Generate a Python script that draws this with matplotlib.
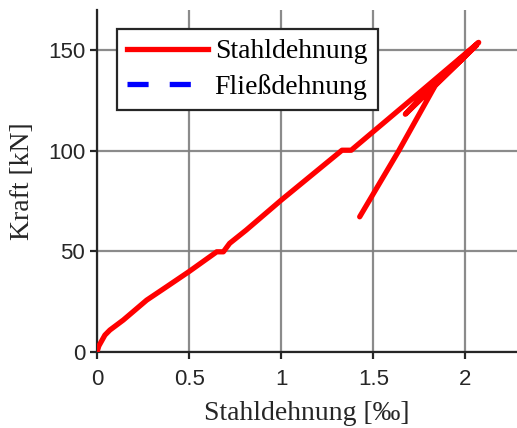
import matplotlib
matplotlib.use("Agg")
import matplotlib.pyplot as plt
from matplotlib.lines import Line2D

# Data
strain = [0.0, 0.01, 0.043, 0.07, 0.143, 0.27, 0.379, 0.5, 0.65, 0.686, 0.72, 0.81,
          1.0, 1.33, 1.38, 1.7, 2.072, 1.837, 1.674, 1.837, 2.06, 1.837, 1.638, 1.426]
force = [0.0, 3.0, 8.4, 10.9, 15.9, 25.8, 32.5, 40.0, 49.8, 49.8, 54.0, 60.6,
         75.5, 100.3, 100.3, 125.0, 153.9, 134.5, 118.2, 132.6, 152.5, 132.6, 100.0, 67.2]
xticks = [0, 0.5, 1, 1.5, 2]
xticklabels = ["0", "0.5", "1", "1.5", "2"]
yticks = [0, 50, 100, 150]

fig = plt.figure(figsize=(5.17, 4.28), dpi=100)
ax = fig.add_axes([0.1876, 0.1776, 0.8124, 0.799])

ax.plot(strain, force, color="#ff0000", lw=3.8, solid_capstyle="round",
        solid_joinstyle="round", zorder=3)

ax.set_xlim(0, 2.28)
ax.set_ylim(0, 170)
ax.set_xticks(xticks)
ax.set_xticklabels(xticklabels)
ax.set_yticks(yticks)

ax.grid(True, color="#7f7f7f", lw=1.6, alpha=0.9)
ax.set_axisbelow(True)
for s in ["top", "right"]:
    ax.spines[s].set_visible(False)
for s in ["left", "bottom"]:
    ax.spines[s].set_color("#262626")
    ax.spines[s].set_linewidth(1.6)

ax.tick_params(direction="out", length=5, width=1.6, color="#262626",
               labelsize=16, labelcolor="#262626")
ax.tick_params(axis="x", pad=7)
for lab in ax.get_xticklabels() + ax.get_yticklabels():
    lab.set_family("Liberation Sans")

serif = "Liberation Serif"
ax.set_xlabel("Stahldehnung [‰]", fontsize=20, family=serif, color="#262626", labelpad=8)
ax.set_ylabel("Kraft [kN]", fontsize=20, family=serif, color="#262626", labelpad=9)

h1 = Line2D([], [], color="#ff0000", lw=3.8)
h2 = Line2D([], [], color="#0000ff", lw=3.8, linestyle=(0, (4, 4)))
leg = ax.legend([h1, h2], ["Stahldehnung", "Fließdehnung"], loc="upper left",
                bbox_to_anchor=(0.048, 0.945), prop={"family": serif, "size": 20},
                frameon=True, fancybox=False, handlelength=2.9, borderpad=0.36,
                labelspacing=0.34, handletextpad=0.25, borderaxespad=0)
leg.get_frame().set_edgecolor("#262626")
leg.get_frame().set_linewidth(1.6)
leg.get_frame().set_alpha(1)

fig.savefig("out.png", dpi=100)
